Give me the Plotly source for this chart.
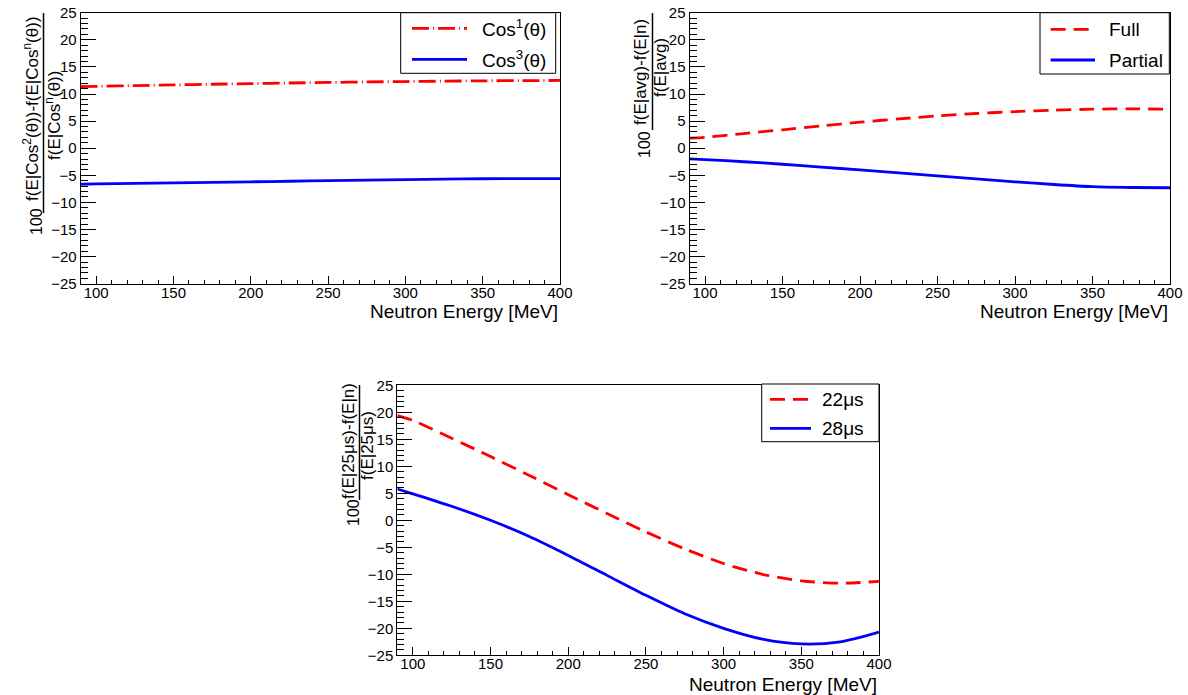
import plotly.graph_objects as go

W, H = 1188, 695

# Neutron energy grid [MeV]
energy = [90, 100, 125, 150, 175, 200, 225, 250, 275, 300, 325, 350, 375, 400]

# Panel 1: angular-distribution variants relative to Cos^n
cos1 = [11.35, 11.42, 11.55, 11.68, 11.80, 11.92, 12.03, 12.13, 12.22, 12.30, 12.37, 12.43, 12.47, 12.50]
cos3 = [-6.65, -6.60, -6.50, -6.40, -6.30, -6.20, -6.10, -5.98, -5.88, -5.78, -5.70, -5.64, -5.60, -5.60]

# Panel 2: full / partial relative to average
full = [1.85, 2.00, 2.70, 3.40, 4.10, 4.80, 5.40, 5.96, 6.40, 6.75, 7.00, 7.20, 7.25, 7.20]
partial = [-1.97, -2.10, -2.50, -2.96, -3.50, -4.00, -4.55, -5.10, -5.65, -6.20, -6.70, -7.10, -7.25, -7.30]

# Panel 3: timing offsets relative to 25 us
t22 = [19.4, 18.5, 15.2, 11.8, 8.3, 4.75, 1.25, -2.15, -5.3, -8.0, -10.0, -11.2, -11.65, -11.3]
t28 = [5.8, 4.9, 2.6, 0.0, -3.0, -6.5, -10.2, -13.9, -17.3, -20.0, -22.0, -22.9, -22.5, -20.7]

RED = "#ff0000"
BLUE = "#0000ff"
FONT = "Liberation Sans, Arial, Helvetica, sans-serif"
DASH_DOT = "17px,4px,1px,4px"
DASH = "15px,8px"
LW = 2.8


def px(x):
    return x / W


def py(y):
    return 1 - y / H


# Frame boxes in pixels: (left, right, top, bottom)
frames = {
    1: (80.7, 560.0, 12.7, 283.7),
    2: (689.5, 1170.0, 12.7, 283.7),
    3: (397.3, 879.0, 385.3, 655.3),
}

fig = go.Figure()

series = [
    (1, cos1, RED, DASH_DOT),
    (1, cos3, BLUE, "solid"),
    (2, full, RED, DASH),
    (2, partial, BLUE, "solid"),
    (3, t22, RED, DASH),
    (3, t28, BLUE, "solid"),
]
for k, vals, col, dash in series:
    sfx = "" if k == 1 else str(k)
    fig.add_trace(go.Scatter(
        x=energy, y=vals, mode="lines", xaxis="x" + sfx, yaxis="y" + sfx,
        line=dict(color=col, width=LW, dash=dash, shape="spline", smoothing=0.8),
        showlegend=False, hoverinfo="skip",
    ))

layout = dict(
    template="none",
    width=W, height=H, margin=dict(l=0, r=0, t=0, b=0, pad=0, autoexpand=False),
    paper_bgcolor="white", plot_bgcolor="white",
    font=dict(family=FONT, color="black"),
    showlegend=False,
)

for k, (l, r, t, b) in frames.items():
    sfx = "" if k == 1 else str(k)
    layout["xaxis" + sfx] = dict(
        domain=[px(l), px(r)], range=[90, 400], anchor="y" + sfx,
        automargin=False,
        tickmode="linear", tick0=100, dtick=50,
        ticks="inside", ticklen=8, tickwidth=1, tickcolor="black",
        minor=dict(dtick=10, tick0=100, ticks="inside", ticklen=4, tickcolor="black"),
        showline=True, linecolor="black", linewidth=1, mirror=True,
        showgrid=False, zeroline=False, ticklabelstandoff=-5,
        tickfont=dict(size=15, family=FONT, color="black"),
    )
    layout["yaxis" + sfx] = dict(
        domain=[py(b), py(t)], range=[-25, 25], anchor="x" + sfx,
        automargin=False,
        tickmode="linear", tick0=-25, dtick=5,
        ticks="inside", ticklen=15, tickwidth=1, tickcolor="black",
        minor=dict(dtick=1, tick0=-25, ticks="inside", ticklen=7, tickcolor="black"),
        showline=True, linecolor="black", linewidth=1, mirror=True,
        showgrid=False, zeroline=False,
        tickfont=dict(size=15, family=FONT, color="black"),
    )

fig.update_layout(**layout)

shapes = []
annotations = []


def text(x, y, s, size, xanchor="center", yanchor="middle", angle=0):
    annotations.append(dict(
        x=px(x), y=py(y), xref="paper", yref="paper", text=s, showarrow=False,
        xanchor=xanchor, yanchor=yanchor, textangle=angle,
        font=dict(size=size, family=FONT, color="black"),
    ))


# x-axis titles, right-aligned with the end of each axis
text(560.0, 312, "Neutron Energy [MeV]", 19, xanchor="right")
text(1170.0, 312, "Neutron Energy [MeV]", 19, xanchor="right")
text(879.0, 684, "Neutron Energy [MeV]", 19, xanchor="right")

# y-axis titles: 100 * numerator / denominator, rotated
ytitles = [
    # (num_x, num_y, den_x, den_y, bar_x, bar_y0, bar_y1, pre_x, pre_y, num, den)
    (31, 109, 53, 116, 43.5, 13, 213, 36, 222,
     "f(E|Cos<sup>2</sup>(θ))-f(E|Cos<sup>n</sup>(θ))", "f(E|Cos<sup>n</sup>(θ))"),
    (641, 72, 660, 68, 652.5, 13, 130, 644, 145,
     "f(E|avg)-f(E|n)", "f(E|avg)"),
    (348, 441, 367, 446, 359.5, 385, 500, 353, 513,
     "f(E|25μs)-f(E|n)", "f(E|25μs)"),
]
for nx, ny, dx, dy, bx, by0, by1, qx, qy, num, den in ytitles:
    text(nx, ny, num, 17, angle=-90)
    text(dx, dy, den, 17, angle=-90)
    text(qx, qy, "100", 16, angle=-90)
    shapes.append(dict(type="line", xref="paper", yref="paper",
                       x0=px(bx), x1=px(bx), y0=py(by0), y1=py(by1),
                       line=dict(color="black", width=1.5)))

# legend boxes
legends = [
    # box (l, r, t, b), sample x range, text x, rows [(y, label, color, dash)]
    ((400.7, 555.7, 12.7, 73.3), (412, 467), 480,
     [(28.3, "Cos<sup>1</sup>(θ)", RED, DASH_DOT), (59.3, "Cos<sup>3</sup>(θ)", BLUE, "solid")]),
    ((1040.0, 1169.3, 12.7, 74.0), (1050.7, 1095), 1107,
     [(29.3, "Full", RED, DASH), (60.0, "Partial", BLUE, "solid")]),
    ((761.7, 879.0, 384.0, 441.7), (770, 811), 820,
     [(399.3, "22μs", RED, DASH), (428.3, "28μs", BLUE, "solid")]),
]
for (l, r, t, b), (sx0, sx1), tx, rows in legends:
    shapes.append(dict(type="rect", xref="paper", yref="paper",
                       x0=px(l), x1=px(r), y0=py(b), y1=py(t),
                       line=dict(color="black", width=1), fillcolor="white", layer="above"))
    for y, label, col, dash in rows:
        shapes.append(dict(type="line", xref="paper", yref="paper",
                           x0=px(sx0), x1=px(sx1), y0=py(y), y1=py(y),
                           line=dict(color=col, width=LW, dash=dash), layer="above"))
        text(tx, y, label, 19, xanchor="left")

fig.update_layout(shapes=shapes, annotations=annotations)

fig.write_html("out.html")
